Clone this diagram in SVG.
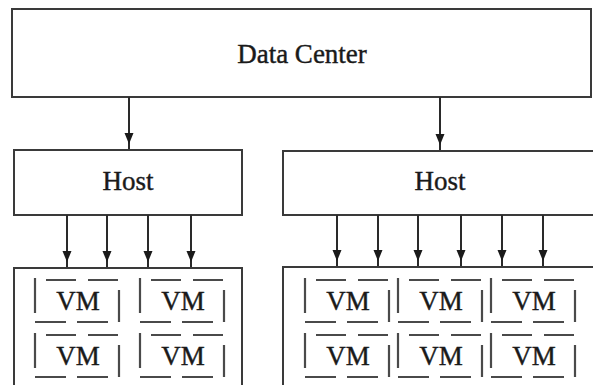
<svg xmlns="http://www.w3.org/2000/svg" xmlns:xlink="http://www.w3.org/1999/xlink" width="593" height="385" viewBox="0 0 593 385">
<style>
.box{fill:#fff;stroke:#3a3a3a;stroke-width:2}
.lbl{font-family:"Liberation Serif","Times New Roman",serif;font-size:27px;fill:#1a1a1a;stroke:#1a1a1a;stroke-width:0.4;text-anchor:middle}
.conn{stroke:#2a2a2a;stroke-width:2;fill:none;marker-end:url(#ah)}
.dash{stroke:#4a4a4a;stroke-width:2.2;fill:none}
</style>
<defs>
<marker id="ah" markerUnits="userSpaceOnUse" markerWidth="20" markerHeight="10" refX="16" refY="4.5" orient="auto">
<path d="M0,0 L11,4.5 L0,9 z" fill="#1a1a1a"/>
</marker>
<g id="vm">
<path class="dash" d="M11,0 H41 M53,0 H83 M0,-2 V33 M84,10 V42 M0,42 H31 M42,42 H73"/>
<text class="lbl" x="43" y="30">VM</text>
</g>
</defs>
<rect width="593" height="385" fill="#fff"/>
<g id="datacenter">
<rect class="box" x="12" y="9" width="579" height="88"/>
<text class="lbl" x="302" y="63">Data Center</text>
</g>
<g id="host1">
<rect class="box" x="14" y="150" width="228" height="65"/>
<text class="lbl" x="128" y="190">Host</text>
</g>
<g id="host2">
<rect class="box" x="283" y="151" width="320" height="64"/>
<text class="lbl" x="440" y="190">Host</text>
</g>
<g id="vms1">
<rect class="box" x="14" y="268" width="228" height="130"/>
<use xlink:href="#vm" x="35" y="280"/>
<use xlink:href="#vm" x="140" y="280"/>
<use xlink:href="#vm" x="35" y="335"/>
<use xlink:href="#vm" x="140" y="335"/>
</g>
<g id="vms2">
<rect class="box" x="283" y="267" width="320" height="130"/>
<use xlink:href="#vm" x="305" y="280"/>
<use xlink:href="#vm" x="398" y="280"/>
<use xlink:href="#vm" x="491" y="280"/>
<use xlink:href="#vm" x="305" y="335"/>
<use xlink:href="#vm" x="398" y="335"/>
<use xlink:href="#vm" x="491" y="335"/>
</g>
<g id="connectors">
<line class="conn" x1="129" y1="97" x2="129" y2="149"/>
<line class="conn" x1="440" y1="97" x2="440" y2="150"/>
<line class="conn" x1="67" y1="215" x2="67" y2="267"/>
<line class="conn" x1="107" y1="215" x2="107" y2="267"/>
<line class="conn" x1="148" y1="215" x2="148" y2="267"/>
<line class="conn" x1="191" y1="215" x2="191" y2="267"/>
<line class="conn" x1="337" y1="215" x2="337" y2="266"/>
<line class="conn" x1="378" y1="215" x2="378" y2="266"/>
<line class="conn" x1="418" y1="215" x2="418" y2="266"/>
<line class="conn" x1="461" y1="215" x2="461" y2="266"/>
<line class="conn" x1="502" y1="215" x2="502" y2="266"/>
<line class="conn" x1="543" y1="215" x2="543" y2="266"/>
</g>
</svg>
